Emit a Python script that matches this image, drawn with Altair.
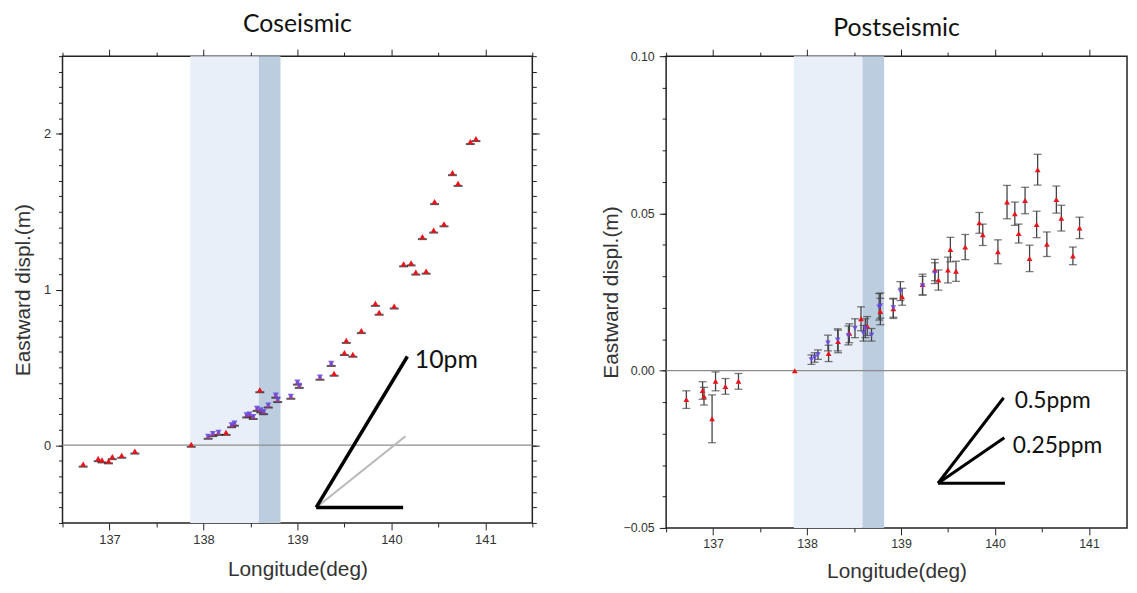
import altair as alt
import pandas as pd

# ---------------- shared ----------------
x_major = [137, 138, 139, 140, 141]
x_minor_co = [136.5, 137.5, 138.5, 139.5, 140.5, 141.5]
x_minor_post = [136.5, 137.5, 138.5, 139.5, 140.5]
band_light = [137.86, 138.59]
band_dark = [138.59, 138.82]
zero_line = [0.0]

# ---------------- coseismic ----------------
co_red_lon = [136.72, 136.88, 136.92, 136.99, 137.03, 137.13, 137.27, 137.87, 138.24, 138.60,
              139.39, 139.50, 139.59, 139.52, 139.68, 139.83, 139.87, 140.03, 140.13, 140.21,
              140.26, 140.37, 140.33, 140.45, 140.56, 140.46, 140.65, 140.71, 140.84, 140.90]
co_red_disp = [-0.122, -0.087, -0.095, -0.101, -0.074, -0.065, -0.038, 0.005, 0.082, 0.356,
               0.462, 0.595, 0.584, 0.673, 0.736, 0.911, 0.854, 0.894, 1.165, 1.171,
               1.112, 1.118, 1.340, 1.382, 1.422, 1.565, 1.751, 1.682, 1.951, 1.970]
co_blue_lon = [138.05, 138.10, 138.16, 138.30, 138.33, 138.46, 138.49, 138.53, 138.57, 138.61,
               138.64, 138.69, 138.77, 138.79, 138.93, 139.00, 139.02, 139.24, 139.36]
co_blue_disp = [0.057, 0.074, 0.082, 0.131, 0.141, 0.194, 0.200, 0.184, 0.236, 0.226,
                0.215, 0.258, 0.321, 0.293, 0.314, 0.405, 0.384, 0.437, 0.525]
co_y_domain = [-0.5, 2.5]
co_y_major = [0, 1, 2]
co_y_minor = [-0.5, -0.4, -0.3, -0.2, -0.1, 0.0, 0.1, 0.2, 0.3, 0.4, 0.5, 0.6, 0.7, 0.8, 0.9,
              1.0, 1.1, 1.2, 1.3, 1.4, 1.5, 1.6, 1.7, 1.8, 1.9, 2.0, 2.1, 2.2, 2.3, 2.4, 2.5]
co_black_x0 = [139.20, 139.20]
co_black_y0 = [-0.40, -0.40]
co_black_x1 = [140.17, 140.125]
co_black_y1 = [0.57, -0.40]
co_gray_x0 = [139.20]
co_gray_y0 = [-0.40]
co_gray_x1 = [140.15]
co_gray_y1 = [0.057]
co_text = ["10pm"]
co_text_lon = [140.25]
co_text_disp = [0.545]

# ---------------- postseismic ----------------
post_red_lon = [136.715, 136.888, 136.903, 136.989, 137.026, 137.131, 137.270, 137.869, 138.229, 138.33,
                138.45, 138.574, 138.64, 138.780, 138.918, 139.012, 139.229, 139.360, 139.398, 139.499,
                139.525, 139.585, 139.683, 139.833, 139.870, 140.031, 140.128, 140.211, 140.252, 140.320,
                140.368, 140.443, 140.454, 140.552, 140.653, 140.706, 140.829, 140.900]
post_red_disp = [-0.0092, -0.0063, -0.0081, -0.0153, -0.0034, -0.0050, -0.0034, 0.0, 0.0055, 0.0093,
                 0.0119, 0.0165, 0.0142, 0.0188, 0.0197, 0.0235, 0.0274, 0.0320, 0.0288, 0.0320,
                 0.0385, 0.0316, 0.0393, 0.0470, 0.0432, 0.0378, 0.0536, 0.0499, 0.0436, 0.0541,
                 0.0357, 0.0465, 0.0639, 0.0402, 0.0544, 0.0485, 0.0365, 0.0454]
post_red_err = [0.0028, 0.0028, 0.0028, 0.0076, 0.0030, 0.0025, 0.0025, 0.0, 0.0026, 0.0036,
                0.0030, 0.0038, 0.0030, 0.0042, 0.0031, 0.0027, 0.0033, 0.0034, 0.0032, 0.0041,
                0.0039, 0.0032, 0.0040, 0.0033, 0.0034, 0.0038, 0.0053, 0.0037, 0.0030, 0.0042,
                0.0042, 0.0042, 0.0049, 0.0039, 0.0043, 0.0041, 0.0028, 0.0034]
post_blue_lon = [138.046, 138.081, 138.116, 138.222, 138.326, 138.44, 138.51, 138.60, 138.62, 138.686,
                 138.767, 138.780, 138.918, 138.993, 139.229, 139.360]
post_blue_disp = [0.0035, 0.0042, 0.0051, 0.0088, 0.0098, 0.0112, 0.0135, 0.0119, 0.0135, 0.0114,
                  0.0203, 0.0207, 0.0200, 0.0253, 0.0270, 0.0310]
post_blue_err = [0.0015, 0.0015, 0.0015, 0.0025, 0.0035, 0.0030, 0.0030, 0.0025, 0.0030, 0.0020,
                 0.0042, 0.0040, 0.0030, 0.0030, 0.0030, 0.0033]
post_y_domain = [-0.05, 0.10]
post_y_major = [-0.05, 0.0, 0.05, 0.10]
post_y_minor = [-0.05, -0.04, -0.03, -0.02, -0.01, 0.0, 0.01, 0.02, 0.03, 0.04, 0.05,
                0.06, 0.07, 0.08, 0.09, 0.10]
post_black_x0 = [139.394, 139.394, 139.394]
post_black_y0 = [-0.0358, -0.0358, -0.0358]
post_black_x1 = [140.092, 140.099, 140.106]
post_black_y1 = [-0.0086, -0.0213, -0.0358]
post_text = ["0.5ppm", "0.25ppm"]
post_text_lon = [140.21, 140.19]
post_text_disp = [-0.0098, -0.0241]

RED = "#e8141c"
VIOLET = "#6448e0"
AXIS_FONT = "Liberation Sans"
TEXT_FONT = "Lato"


def panel(title, title_offset, width, height, xdom, ydom, x_minor, y_major, y_minor, yfmt,
          label_size, label_pad_x, title_pad_x, title_pad_y, right_axis, points_layers, guide_layers):
    xs = alt.Scale(domain=xdom, nice=False, zero=False)
    ys = alt.Scale(domain=ydom, nice=False, zero=False)

    def X(f):
        return alt.X(f, type="quantitative", scale=xs, axis=None)

    def Y(f):
        return alt.Y(f, type="quantitative", scale=ys, axis=None)

    layers = []
    layers.append(alt.Chart(pd.DataFrame({"lon": [band_light[0]], "lon1": [band_light[1]]}))
                  .mark_rect(color="#e9eff8").encode(x=X("lon"), x2="lon1"))
    layers.append(alt.Chart(pd.DataFrame({"lon": [band_dark[0]], "lon1": [band_dark[1]]}))
                  .mark_rect(color="#bccde0").encode(x=X("lon"), x2="lon1"))
    layers.append(alt.Chart(pd.DataFrame({"disp": zero_line}))
                  .mark_rule(color="#8c8c8c", strokeWidth=1.2).encode(y=Y("disp")))
    for fn in guide_layers:
        layers.append(fn(X, Y))
    for fn in points_layers:
        layers.append(fn(X, Y))

    # axes (major + minor ticks on several sides)
    dummy = pd.DataFrame({"lon": [xdom[0]], "disp": [ydom[0]]})
    common = dict(labelFont=AXIS_FONT, labelFontSize=label_size, labelColor="#333",
                  titleFont=AXIS_FONT, titleFontSize=21, titleColor="#333",
                  titleFontWeight="normal", tickColor="#222", domain=False, grid=False)
    x_axes = [
        alt.Axis(orient="bottom", values=x_major, format="d", title="Longitude(deg)", tickSize=7,
                 labelPadding=label_pad_x, titlePadding=title_pad_x, **common),
        alt.Axis(orient="top", values=x_major, labels=False, title=None, tickSize=7, **common),
        alt.Axis(orient="bottom", values=x_minor, labels=False, title=None, tickSize=4, **common),
        alt.Axis(orient="top", values=x_minor, labels=False, title=None, tickSize=4, **common),
    ]
    y_axes = [
        alt.Axis(orient="left", values=y_major, format=yfmt, title="Eastward displ.(m)", tickSize=7,
                 labelPadding=5, titlePadding=title_pad_y, **common),
        alt.Axis(orient="left", values=y_minor, labels=False, title=None, tickSize=4, **common),
    ]
    if right_axis:
        y_axes.append(alt.Axis(orient="right", values=y_major, labels=False, title=None, tickSize=7, **common))
        y_axes.append(alt.Axis(orient="right", values=y_minor, labels=False, title=None, tickSize=4, **common))
    n = max(len(x_axes), len(y_axes))
    for i in range(n):
        xa = x_axes[i] if i < len(x_axes) else None
        ya = y_axes[i] if i < len(y_axes) else None
        layers.append(alt.Chart(dummy).mark_point(opacity=0).encode(
            x=alt.X("lon", type="quantitative", scale=xs, axis=xa),
            y=alt.Y("disp", type="quantitative", scale=ys, axis=ya)))

    return alt.layer(*layers).resolve_axis(x="independent", y="independent").properties(
        width=width, height=height,
        title=alt.TitleParams(title, font=TEXT_FONT, fontSize=25, fontWeight="normal",
                              color="#111", offset=title_offset, anchor="middle"))


# ---------- coseismic layers ----------
co_red = pd.DataFrame({"lon": co_red_lon, "disp": co_red_disp})
co_blue = pd.DataFrame({"lon": co_blue_lon, "disp": co_blue_disp})
co_all = pd.concat([co_red, co_blue])


def co_points(X, Y):
    return alt.layer(
        alt.Chart(co_all).mark_tick(orient="horizontal", color="#111", thickness=2, size=9, yOffset=2.5)
        .encode(x=X("lon"), y=Y("disp")),
        alt.Chart(co_red).mark_point(shape="triangle-up", filled=True, color=RED, size=38, opacity=1, strokeWidth=0)
        .encode(x=X("lon"), y=Y("disp")),
        alt.Chart(co_blue).mark_point(shape="triangle-up", filled=True, color="#c0306a", size=30, opacity=0.8, strokeWidth=0)
        .encode(x=X("lon"), y=Y("disp")),
        alt.Chart(co_blue).mark_point(shape="triangle-down", filled=True, color=VIOLET, size=38, opacity=0.85, strokeWidth=0)
        .encode(x=X("lon"), y=Y("disp")),
    )


def co_guides(X, Y):
    blk = pd.DataFrame({"lon": co_black_x0, "disp": co_black_y0, "lon1": co_black_x1, "disp1": co_black_y1})
    gry = pd.DataFrame({"lon": co_gray_x0, "disp": co_gray_y0, "lon1": co_gray_x1, "disp1": co_gray_y1})
    txt = pd.DataFrame({"lon": co_text_lon, "disp": co_text_disp, "t": co_text})
    return alt.layer(
        alt.Chart(gry).mark_rule(color="#b8b8b8", strokeWidth=2).encode(x=X("lon"), y=Y("disp"), x2="lon1", y2="disp1"),
        alt.Chart(blk).mark_rule(color="#000", strokeWidth=3.5).encode(x=X("lon"), y=Y("disp"), x2="lon1", y2="disp1"),
        alt.Chart(txt).mark_text(align="left", baseline="middle", font=TEXT_FONT, fontSize=25, color="#111")
        .encode(x=X("lon"), y=Y("disp"), text="t"),
    )


# ---------- postseismic layers ----------
post_red = pd.DataFrame({"lon": post_red_lon, "disp": post_red_disp, "err": post_red_err})
post_blue = pd.DataFrame({"lon": post_blue_lon, "disp": post_blue_disp, "err": post_blue_err})
post_err = pd.concat([post_red, post_blue])
post_err = post_err[post_err["err"] > 0].copy()
post_err["lo"] = post_err["disp"] - post_err["err"]
post_err["hi"] = post_err["disp"] + post_err["err"]


def post_points(X, Y):
    return alt.layer(
        alt.Chart(post_err).mark_rule(color="#444", strokeWidth=1.3).encode(x=X("lon"), y=Y("lo"), y2="hi"),
        alt.Chart(post_err).mark_tick(orient="horizontal", color="#444", thickness=1.3, size=8)
        .encode(x=X("lon"), y=Y("lo")),
        alt.Chart(post_err).mark_tick(orient="horizontal", color="#444", thickness=1.3, size=8)
        .encode(x=X("lon"), y=Y("hi")),
        alt.Chart(post_red).mark_point(shape="triangle-up", filled=True, color=RED, size=34, opacity=1, strokeWidth=0)
        .encode(x=X("lon"), y=Y("disp")),
        alt.Chart(post_blue).mark_point(shape="triangle-down", filled=True, color=VIOLET, size=32, opacity=0.85, strokeWidth=0)
        .encode(x=X("lon"), y=Y("disp")),
    )


def post_guides(X, Y):
    blk = pd.DataFrame({"lon": post_black_x0, "disp": post_black_y0, "lon1": post_black_x1, "disp1": post_black_y1})
    txt = pd.DataFrame({"lon": post_text_lon, "disp": post_text_disp, "t": post_text})
    return alt.layer(
        alt.Chart(blk).mark_rule(color="#000", strokeWidth=3).encode(x=X("lon"), y=Y("disp"), x2="lon1", y2="disp1"),
        alt.Chart(txt).mark_text(align="left", baseline="middle", font=TEXT_FONT, fontSize=23, color="#111")
        .encode(x=X("lon"), y=Y("disp"), text="t"),
    )


left = panel("Coseismic", 12, 474, 471, [136.5, 141.5], co_y_domain, x_minor_co, co_y_major, co_y_minor, "d",
             13, 4, 12, 10, True, [co_points], [co_guides])
right = panel("Postseismic", 8, 465, 476, [136.5, 141.405], post_y_domain, x_minor_post, post_y_major, post_y_minor,
              ".2f", 12.5, 3, 11, 1, False, [post_points], [post_guides])

chart = (alt.hconcat(left, right, spacing=59)
         .properties(padding={"left": 4, "top": 0, "right": 0, "bottom": 0})
         .configure_view(stroke="#222", strokeWidth=1.5))

chart.save("out.html", embed_options={"renderer": "svg", "actions": False})
